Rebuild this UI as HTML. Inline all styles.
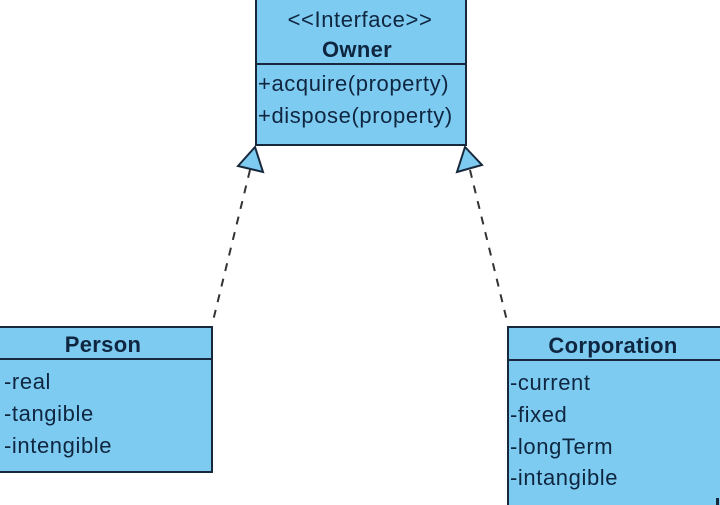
<!DOCTYPE html>
<html><head><meta charset="utf-8"><style>
html,body{margin:0;padding:0;background:#fff;width:720px;height:505px;overflow:hidden}
svg{display:block}
text{font-family:"Liberation Sans",Arial,sans-serif;font-size:22px;fill:#0f2640;letter-spacing:0.6px}
.b{font-weight:bold;letter-spacing:0.3px}
</style></head><body>
<svg width="720" height="505" viewBox="0 0 720 505" xmlns="http://www.w3.org/2000/svg">
<!-- Owner -->
<rect x="256" y="-10" width="210" height="155" fill="#7ecbf1" stroke="#17283c" stroke-width="2"/>
<line x1="256" y1="64" x2="466" y2="64" stroke="#17283c" stroke-width="2"/>
<text x="360" y="27" text-anchor="middle">&lt;&lt;Interface&gt;&gt;</text>
<text x="357" y="57" text-anchor="middle" class="b">Owner</text>
<text x="258" y="91">+acquire(property)</text>
<text x="258" y="123">+dispose(property)</text>

<!-- connectors -->
<line x1="250" y1="170" x2="212" y2="325" stroke="#333" stroke-width="2" stroke-dasharray="8,8"/>
<line x1="470" y1="170" x2="508" y2="325" stroke="#333" stroke-width="2" stroke-dasharray="8,8"/>
<polygon points="255,147 238,166 263,172" fill="#7ecbf1" stroke="#17283c" stroke-width="2" stroke-linejoin="miter"/>
<polygon points="465,147 457,172 482,165" fill="#7ecbf1" stroke="#17283c" stroke-width="2" stroke-linejoin="miter"/>

<!-- Person -->
<rect x="-10" y="327" width="222" height="145" fill="#7ecbf1" stroke="#17283c" stroke-width="2"/>
<line x1="-10" y1="359" x2="212" y2="359" stroke="#17283c" stroke-width="2"/>
<text x="103" y="352" text-anchor="middle" class="b">Person</text>
<text x="4" y="389">-real</text>
<text x="4" y="421">-tangible</text>
<text x="4" y="453">-intengible</text>

<!-- Corporation -->
<rect x="508" y="327" width="230" height="200" fill="#7ecbf1" stroke="#17283c" stroke-width="2"/>
<line x1="508" y1="360" x2="730" y2="360" stroke="#17283c" stroke-width="2"/>
<text x="613" y="353" text-anchor="middle" class="b">Corporation</text>
<text x="510" y="390">-current</text>
<text x="510" y="422">-fixed</text>
<text x="510" y="454">-longTerm</text>
<text x="510" y="485">-intangible</text>
<rect x="716" y="498" width="3" height="7" fill="#17283c"/>
</svg>
</body></html>
